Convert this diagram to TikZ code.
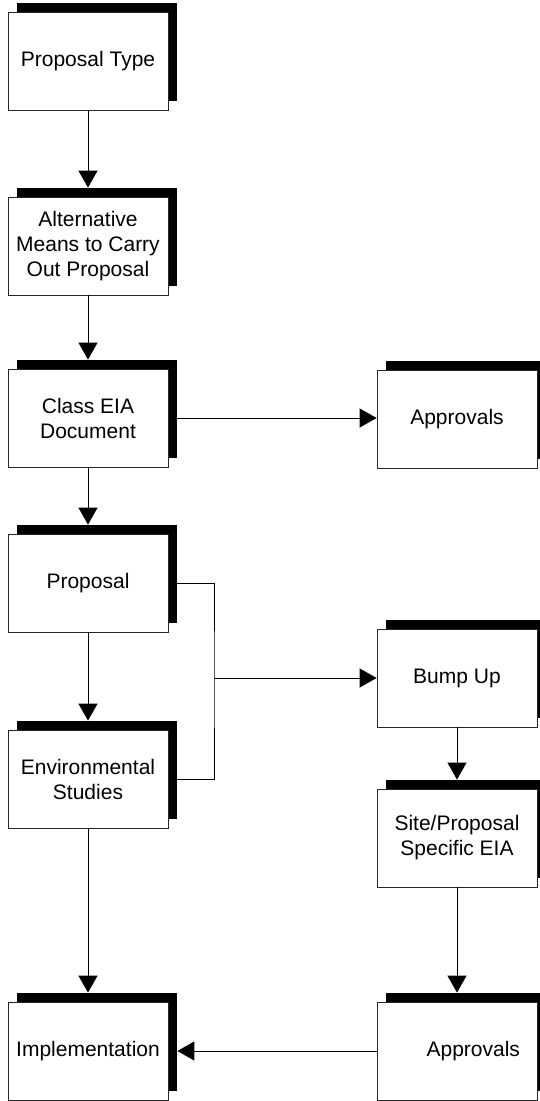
\documentclass[tikz,border=0pt]{standalone}
\usepackage{fontspec}
\setmainfont{Liberation Sans}
\usetikzlibrary{arrows.meta,shadows}

\begin{document}
\begin{tikzpicture}[x=1pt,y=-1pt,
  panel/.style={draw=black!85, line width=0.8pt, fill=white,
    minimum width=160pt, minimum height=98pt, inner sep=0pt,
    align=center,
    font=\fontsize{21pt}{25pt}\selectfont,
    drop shadow={shadow xshift=9pt, shadow yshift=9pt, fill=black, opacity=1}},
  link/.style={line width=1pt, draw=black},
  flow/.style={link, -{Triangle[length=17pt,width=19pt]}}
]
\useasboundingbox (0,0) rectangle (540,1101);
\clip (0,0) rectangle (540,1101);

% left column
\node[panel] (type)   at (88,61)   {Proposal Type};
\node[panel] (alt)    at (88,246)  {Alternative\\Means to Carry\\Out Proposal};
\node[panel] (class)  at (88,418)  {Class EIA\\Document};
\node[panel] (prop)   at (88,583)  {Proposal};
\node[panel] (env)    at (88,779)  {Environmental\\Studies};
\node[panel] (impl)   at (88,1051) {Implementation};

% right column
\node[panel] (appr)   at (457,419) {Approvals};
\node[panel] (bump)   at (457,678) {Bump Up};
\node[panel] (site)   at (457,838) {Site/Proposal\\Specific EIA};
\node[panel, text width=126pt, align=right] (apprb) at (457,1051) {Approvals};

% vertical flow on the left
\draw[flow] (type.south)  -- ([yshift=9pt]alt.north);
\draw[flow] (alt.south)   -- ([yshift=9pt]class.north);
\draw[flow] (class.south) -- ([yshift=9pt]prop.north);
\draw[flow] (prop.south)  -- ([yshift=9pt]env.north);
\draw[flow] (env.south)   -- ([yshift=9pt]impl.north);

% class EIA to approvals
\draw[flow] ([xshift=9pt]class.east) -- (class.east -| appr.west);

% proposal and studies joined into bump up
\coordinate (join) at (214,678);
\draw[link] ([xshift=9pt]prop.east) -| (join) |- ([xshift=9pt]env.east);
\draw[flow] (join) -- (bump.west);

% right column flow
\draw[flow] (bump.south) -- ([yshift=9pt]site.north);
\draw[flow] (site.south) -- ([yshift=9pt]apprb.north);
\draw[flow] (apprb.west) -- ([xshift=9pt]impl.east);
\end{tikzpicture}
\end{document}
